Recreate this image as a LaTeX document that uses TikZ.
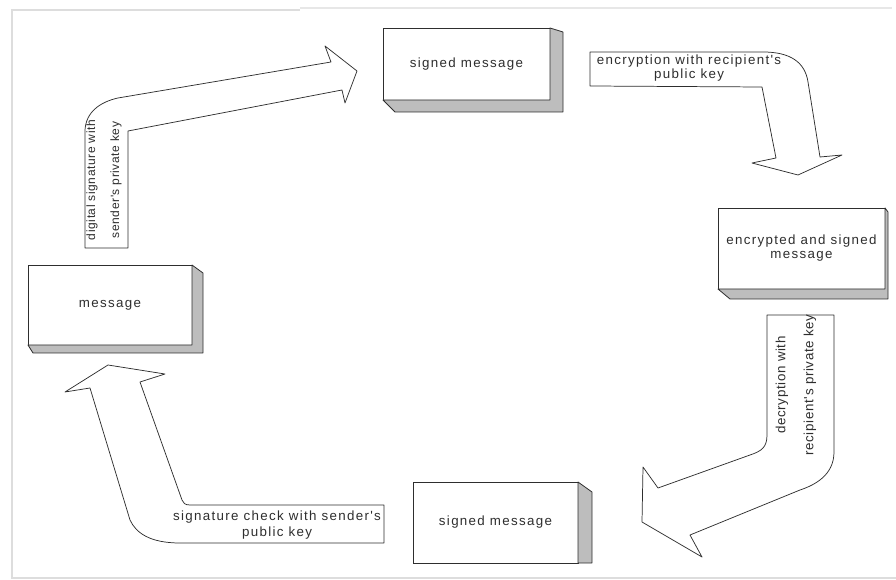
\documentclass[tikz,border=0pt]{standalone}
\usepackage{fontspec}
\setmainfont{Liberation Sans}
\newfontfamily\lbl[LetterSpace=10]{Liberation Sans}
\newfontfamily\rlbl[LetterSpace=5]{Liberation Sans}
\usetikzlibrary{calc}
\definecolor{ink}{HTML}{2E2E2E}
\definecolor{shadegray}{HTML}{BDBDBD}
\definecolor{framegray}{HTML}{DDDDDD}
\tikzset{
  boxfront/.style={draw=ink, line width=0.7pt, fill=white, inner sep=0pt, outer sep=0pt,
    text=ink, align=center, font=\lbl\fontsize{10}{10.5}\selectfont},
  boxshade/.style={fill=shadegray, draw=ink, line width=0.6pt, line join=round},
  blockarrow/.style={draw=ink, line width=0.55pt, fill=white, line join=round},
  arrowtext/.style={text=ink, align=center, inner sep=0pt, font=\lbl\fontsize{10}{10.5}\selectfont},
  framestyle/.style={draw=framegray, line width=1.5pt}
}
\begin{document}
\begin{tikzpicture}[x=0.75pt, y=-0.75pt]
\useasboundingbox (0,0) rectangle (896,580);
% page frame
\draw[framestyle] (896,578) -- (12,578) -- (12,10) -- (300,10);
\draw[framestyle, draw=framegray!70] (300,8) -- (892,8);

% ---- boxes ----
\node[boxfront, minimum width=0.75*164pt, minimum height=0.75*80pt] (m1) at (110,305) {message};
\filldraw[boxshade] (m1.north east) -- ++(11,8) -- ($(m1.south east)+(11,8)$) -- ($(m1.south west)+(5,8)$) -- (m1.south west) -- (m1.south east) -- cycle;

\node[boxfront, minimum width=0.75*167pt, minimum height=0.75*72pt] (s1) at (466.5,64) {signed message};
\filldraw[boxshade] (s1.north east) -- ++(13,4) -- ($(s1.south east)+(13,12)$) -- ($(s1.south west)+(12,12)$) -- (s1.south west) -- (s1.south east) -- cycle;

\node[boxfront, minimum width=0.75*167pt, minimum height=0.75*81pt] (e1) at (801.5,248.5) {encrypted and signed\\message};
\filldraw[boxshade] (e1.north east) -- ++(3,4) -- ($(e1.south east)+(3,10)$) -- ($(e1.south west)+(12,10)$) -- (e1.south west) -- (e1.south east) -- cycle;

\node[boxfront, minimum width=0.75*165pt, minimum height=0.75*81pt] (s2) at (495.5,522.5) {signed message};
\filldraw[boxshade] (s2.north east) -- ++(14,10) -- ($(s2.south east)+(14,0)$) -- (s2.south east) -- cycle;

% ---- block arrows ----
% A: message -> signed message
\filldraw[blockarrow] (85,248) -- (85,130) .. controls (86,112) and (100,102) .. (118,98)
  -- (331,62) -- (325,46) -- (357,71) -- (345,103) -- (342,90) -- (128,131) -- (128,248) -- cycle;
\node[arrowtext, rotate=90, font=\rlbl\fontsize{9}{18}\selectfont] (ta) at (104,180)
  {digital signature with\\sender's private key};

% B: signed message -> encrypted and signed message
\filldraw[blockarrow] (590,52) -- (763,52) .. controls (790,52) and (805,62) .. (808,82)
  -- (820,157) -- (842,155) -- (798,175) -- (752,163) -- (776,158) -- (762,87) -- (590,86) -- cycle;
\node[arrowtext] (tb) at (689,68) {encryption with recipient's\\public key};

% C: encrypted and signed message -> signed message
\filldraw[blockarrow] (767,315) -- (834,315) -- (834,452) .. controls (834,475) and (815,485) .. (800,490)
  -- (690,535) -- (702,557) -- (642,522) -- (643,467) -- (658,488) -- (750,455)
  .. controls (762,451) and (767,447) .. (767,435) -- cycle;
\node[arrowtext, rotate=90, font=\rlbl\fontsize{10}{21}\selectfont] (tc) at (796,385)
  {decryption with\\recipient's private key};

% D: signed message -> message
\filldraw[blockarrow] (384,505) -- (190,505) .. controls (185,505) and (183,503) .. (182,500)
  -- (140,382) -- (165,374) -- (108,365) -- (65,392) -- (90,388) -- (130,520)
  .. controls (136,533) and (150,543) .. (180,543) -- (384,543) -- cycle;
\node[arrowtext, font=\lbl\fontsize{10}{12}\selectfont] (td) at (277,525) {signature check with sender's\\public key};
\end{tikzpicture}
\end{document}
